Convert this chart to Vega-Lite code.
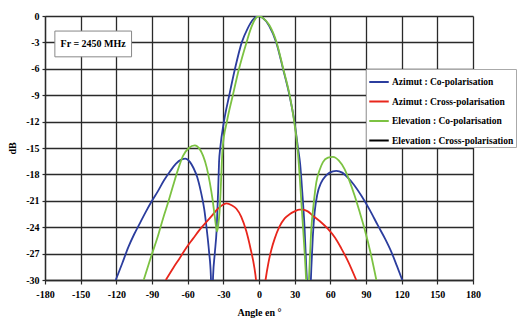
{
  "$schema": "https://vega.github.io/schema/vega-lite/v6.json",
  "autosize": "none",
  "width": 428,
  "height": 264,
  "padding": {"left": 45, "top": 16, "right": 48, "bottom": 40},
  "background": "white",
  "config": {
    "view": {"stroke": null},
    "axis": {
      "labelFont": "Liberation Serif", "labelFontWeight": "bold", "labelFontSize": 10, "labelColor": "#000",
      "titleFont": "Liberation Serif", "titleFontWeight": "bold", "titleFontSize": 10, "titleColor": "#000",
      "gridColor": "#2a2a2a", "gridWidth": 1.3, "gridOpacity": 1, "labelOverlap": false,
      "domainColor": "#2a2a2a", "domainWidth": 1.3, "tickColor": "#2a2a2a", "tickWidth": 1.2, "tickSize": 4
    },
    "legend": {
      "orient": "none", "legendX": 321, "legendY": 53,
      "fillColor": "white", "strokeColor": "#aaa", "padding": 2,
      "symbolType": "stroke", "symbolSize": 380, "symbolStrokeWidth": 2,
      "labelFont": "Liberation Serif", "labelFontWeight": "bold", "labelFontSize": 9.5, "labelColor": "#000",
      "labelLimit": 300, "rowPadding": 3.5, "labelOffset": 2
    }
  },
  "datasets": {
    "box": [{"a": -171.7, "a2": -107.2, "d": -1.71, "d2": -4.64}],
    "note": [{"a": -139.5, "d": -3.2, "label": "Fr = 2450 MHz"}],
    "curves": [
      {"s": "Azimut : Co-polarisation", "a": -120.5, "d": -30},
      {"s": "Azimut : Co-polarisation", "a": -115, "d": -28.1},
      {"s": "Azimut : Co-polarisation", "a": -110, "d": -26.3},
      {"s": "Azimut : Co-polarisation", "a": -105, "d": -24.8},
      {"s": "Azimut : Co-polarisation", "a": -100, "d": -23.5},
      {"s": "Azimut : Co-polarisation", "a": -95, "d": -22.2},
      {"s": "Azimut : Co-polarisation", "a": -90, "d": -21.0},
      {"s": "Azimut : Co-polarisation", "a": -85, "d": -19.9},
      {"s": "Azimut : Co-polarisation", "a": -80, "d": -18.7},
      {"s": "Azimut : Co-polarisation", "a": -75, "d": -17.7},
      {"s": "Azimut : Co-polarisation", "a": -70, "d": -16.8},
      {"s": "Azimut : Co-polarisation", "a": -65, "d": -16.3},
      {"s": "Azimut : Co-polarisation", "a": -62, "d": -16.2},
      {"s": "Azimut : Co-polarisation", "a": -58, "d": -16.6},
      {"s": "Azimut : Co-polarisation", "a": -55, "d": -17.3},
      {"s": "Azimut : Co-polarisation", "a": -52, "d": -18.3},
      {"s": "Azimut : Co-polarisation", "a": -49, "d": -19.9},
      {"s": "Azimut : Co-polarisation", "a": -46, "d": -22.0},
      {"s": "Azimut : Co-polarisation", "a": -44, "d": -24.2},
      {"s": "Azimut : Co-polarisation", "a": -42, "d": -26.8},
      {"s": "Azimut : Co-polarisation", "a": -40.5, "d": -29.5},
      {"s": "Azimut : Co-polarisation", "a": -39.6, "d": -34},
      {"s": "Azimut : Co-polarisation", "a": -38.6, "d": -29.5},
      {"s": "Azimut : Co-polarisation", "a": -37.2, "d": -27.0},
      {"s": "Azimut : Co-polarisation", "a": -35.6, "d": -24.2},
      {"s": "Azimut : Co-polarisation", "a": -34.4, "d": -20.0},
      {"s": "Azimut : Co-polarisation", "a": -33.6, "d": -16.6},
      {"s": "Azimut : Co-polarisation", "a": -32.6, "d": -15},
      {"s": "Azimut : Co-polarisation", "a": -29.5, "d": -12},
      {"s": "Azimut : Co-polarisation", "a": -25, "d": -9},
      {"s": "Azimut : Co-polarisation", "a": -20.2, "d": -6},
      {"s": "Azimut : Co-polarisation", "a": -14.5, "d": -3},
      {"s": "Azimut : Co-polarisation", "a": -9.5, "d": -1.4},
      {"s": "Azimut : Co-polarisation", "a": -5, "d": -0.4},
      {"s": "Azimut : Co-polarisation", "a": -1, "d": 0},
      {"s": "Azimut : Co-polarisation", "a": 3, "d": -0.2},
      {"s": "Azimut : Co-polarisation", "a": 8.5, "d": -1.1},
      {"s": "Azimut : Co-polarisation", "a": 14.5, "d": -3},
      {"s": "Azimut : Co-polarisation", "a": 20.2, "d": -6},
      {"s": "Azimut : Co-polarisation", "a": 25.6, "d": -9},
      {"s": "Azimut : Co-polarisation", "a": 29.8, "d": -12},
      {"s": "Azimut : Co-polarisation", "a": 32.8, "d": -15},
      {"s": "Azimut : Co-polarisation", "a": 34.6, "d": -16.8},
      {"s": "Azimut : Co-polarisation", "a": 36.6, "d": -20.4},
      {"s": "Azimut : Co-polarisation", "a": 38.3, "d": -24},
      {"s": "Azimut : Co-polarisation", "a": 39.8, "d": -28.7},
      {"s": "Azimut : Co-polarisation", "a": 40.5, "d": -30.5},
      {"s": "Azimut : Co-polarisation", "a": 42, "d": -34},
      {"s": "Azimut : Co-polarisation", "a": 43.5, "d": -30.5},
      {"s": "Azimut : Co-polarisation", "a": 44, "d": -28.7},
      {"s": "Azimut : Co-polarisation", "a": 45.3, "d": -25},
      {"s": "Azimut : Co-polarisation", "a": 46.8, "d": -22.3},
      {"s": "Azimut : Co-polarisation", "a": 49, "d": -20.3},
      {"s": "Azimut : Co-polarisation", "a": 52.4, "d": -18.9},
      {"s": "Azimut : Co-polarisation", "a": 56, "d": -18.2},
      {"s": "Azimut : Co-polarisation", "a": 59.4, "d": -17.8},
      {"s": "Azimut : Co-polarisation", "a": 65, "d": -17.6},
      {"s": "Azimut : Co-polarisation", "a": 70, "d": -17.8},
      {"s": "Azimut : Co-polarisation", "a": 73.4, "d": -18.2},
      {"s": "Azimut : Co-polarisation", "a": 80, "d": -19.2},
      {"s": "Azimut : Co-polarisation", "a": 86, "d": -20.4},
      {"s": "Azimut : Co-polarisation", "a": 93, "d": -22.0},
      {"s": "Azimut : Co-polarisation", "a": 100, "d": -23.8},
      {"s": "Azimut : Co-polarisation", "a": 106, "d": -25.3},
      {"s": "Azimut : Co-polarisation", "a": 111.3, "d": -26.8},
      {"s": "Azimut : Co-polarisation", "a": 116, "d": -28.4},
      {"s": "Azimut : Co-polarisation", "a": 120.5, "d": -30},

      {"s": "Azimut : Cross-polarisation", "a": -78.4, "d": -30},
      {"s": "Azimut : Cross-polarisation", "a": -72, "d": -28.6},
      {"s": "Azimut : Cross-polarisation", "a": -66.6, "d": -27.5},
      {"s": "Azimut : Cross-polarisation", "a": -61, "d": -26.3},
      {"s": "Azimut : Cross-polarisation", "a": -55.5, "d": -25.3},
      {"s": "Azimut : Cross-polarisation", "a": -50, "d": -24.3},
      {"s": "Azimut : Cross-polarisation", "a": -44.2, "d": -23.4},
      {"s": "Azimut : Cross-polarisation", "a": -39, "d": -22.6},
      {"s": "Azimut : Cross-polarisation", "a": -34.5, "d": -21.9},
      {"s": "Azimut : Cross-polarisation", "a": -31, "d": -21.5},
      {"s": "Azimut : Cross-polarisation", "a": -27.4, "d": -21.3},
      {"s": "Azimut : Cross-polarisation", "a": -23, "d": -21.5},
      {"s": "Azimut : Cross-polarisation", "a": -19, "d": -21.9},
      {"s": "Azimut : Cross-polarisation", "a": -15, "d": -22.8},
      {"s": "Azimut : Cross-polarisation", "a": -10.6, "d": -24.5},
      {"s": "Azimut : Cross-polarisation", "a": -7, "d": -26.5},
      {"s": "Azimut : Cross-polarisation", "a": -4, "d": -28.5},
      {"s": "Azimut : Cross-polarisation", "a": -2.5, "d": -30},
      {"s": "Azimut : Cross-polarisation", "a": 0.5, "d": -36},
      {"s": "Azimut : Cross-polarisation", "a": 5.5, "d": -30},
      {"s": "Azimut : Cross-polarisation", "a": 8, "d": -28},
      {"s": "Azimut : Cross-polarisation", "a": 10.5, "d": -26.5},
      {"s": "Azimut : Cross-polarisation", "a": 13.2, "d": -25.3},
      {"s": "Azimut : Cross-polarisation", "a": 17, "d": -24},
      {"s": "Azimut : Cross-polarisation", "a": 21.6, "d": -23.0},
      {"s": "Azimut : Cross-polarisation", "a": 26, "d": -22.5},
      {"s": "Azimut : Cross-polarisation", "a": 30, "d": -22.2},
      {"s": "Azimut : Cross-polarisation", "a": 34, "d": -22.0},
      {"s": "Azimut : Cross-polarisation", "a": 37, "d": -22.0},
      {"s": "Azimut : Cross-polarisation", "a": 41, "d": -22.2},
      {"s": "Azimut : Cross-polarisation", "a": 45.4, "d": -22.7},
      {"s": "Azimut : Cross-polarisation", "a": 51, "d": -23.3},
      {"s": "Azimut : Cross-polarisation", "a": 58, "d": -24.2},
      {"s": "Azimut : Cross-polarisation", "a": 64, "d": -25.2},
      {"s": "Azimut : Cross-polarisation", "a": 69.2, "d": -26.4},
      {"s": "Azimut : Cross-polarisation", "a": 75, "d": -27.9},
      {"s": "Azimut : Cross-polarisation", "a": 81.8, "d": -30},

      {"s": "Elevation : Co-polarisation", "a": -97, "d": -30},
      {"s": "Elevation : Co-polarisation", "a": -93, "d": -28.3},
      {"s": "Elevation : Co-polarisation", "a": -90.4, "d": -27.2},
      {"s": "Elevation : Co-polarisation", "a": -85, "d": -25},
      {"s": "Elevation : Co-polarisation", "a": -80.7, "d": -23.0},
      {"s": "Elevation : Co-polarisation", "a": -76, "d": -21},
      {"s": "Elevation : Co-polarisation", "a": -72.3, "d": -19.3},
      {"s": "Elevation : Co-polarisation", "a": -68, "d": -17.4},
      {"s": "Elevation : Co-polarisation", "a": -63.9, "d": -15.9},
      {"s": "Elevation : Co-polarisation", "a": -59, "d": -15.0},
      {"s": "Elevation : Co-polarisation", "a": -54, "d": -14.7},
      {"s": "Elevation : Co-polarisation", "a": -50, "d": -15.1},
      {"s": "Elevation : Co-polarisation", "a": -47, "d": -15.9},
      {"s": "Elevation : Co-polarisation", "a": -44, "d": -17.2},
      {"s": "Elevation : Co-polarisation", "a": -41.4, "d": -18.9},
      {"s": "Elevation : Co-polarisation", "a": -39, "d": -20.9},
      {"s": "Elevation : Co-polarisation", "a": -37.2, "d": -22.8},
      {"s": "Elevation : Co-polarisation", "a": -35.3, "d": -24.5},
      {"s": "Elevation : Co-polarisation", "a": -34.3, "d": -23.8},
      {"s": "Elevation : Co-polarisation", "a": -33.2, "d": -22.3},
      {"s": "Elevation : Co-polarisation", "a": -32.3, "d": -20},
      {"s": "Elevation : Co-polarisation", "a": -31.5, "d": -17.4},
      {"s": "Elevation : Co-polarisation", "a": -30.6, "d": -15},
      {"s": "Elevation : Co-polarisation", "a": -27, "d": -12},
      {"s": "Elevation : Co-polarisation", "a": -22, "d": -9},
      {"s": "Elevation : Co-polarisation", "a": -16.8, "d": -6},
      {"s": "Elevation : Co-polarisation", "a": -10.5, "d": -3},
      {"s": "Elevation : Co-polarisation", "a": -6.5, "d": -1.3},
      {"s": "Elevation : Co-polarisation", "a": -3, "d": -0.3},
      {"s": "Elevation : Co-polarisation", "a": 0, "d": 0},
      {"s": "Elevation : Co-polarisation", "a": 3, "d": -0.2},
      {"s": "Elevation : Co-polarisation", "a": 8.5, "d": -1},
      {"s": "Elevation : Co-polarisation", "a": 14.8, "d": -3},
      {"s": "Elevation : Co-polarisation", "a": 20.4, "d": -6},
      {"s": "Elevation : Co-polarisation", "a": 25.8, "d": -9},
      {"s": "Elevation : Co-polarisation", "a": 29.6, "d": -12},
      {"s": "Elevation : Co-polarisation", "a": 32.4, "d": -15},
      {"s": "Elevation : Co-polarisation", "a": 34.3, "d": -18.4},
      {"s": "Elevation : Co-polarisation", "a": 35.8, "d": -21.5},
      {"s": "Elevation : Co-polarisation", "a": 37.5, "d": -25},
      {"s": "Elevation : Co-polarisation", "a": 39.2, "d": -28.8},
      {"s": "Elevation : Co-polarisation", "a": 40, "d": -31},
      {"s": "Elevation : Co-polarisation", "a": 41, "d": -33},
      {"s": "Elevation : Co-polarisation", "a": 42, "d": -30},
      {"s": "Elevation : Co-polarisation", "a": 44, "d": -24.2},
      {"s": "Elevation : Co-polarisation", "a": 46, "d": -21.3},
      {"s": "Elevation : Co-polarisation", "a": 48.2, "d": -18.9},
      {"s": "Elevation : Co-polarisation", "a": 51, "d": -17.5},
      {"s": "Elevation : Co-polarisation", "a": 53.8, "d": -16.6},
      {"s": "Elevation : Co-polarisation", "a": 58, "d": -16.1},
      {"s": "Elevation : Co-polarisation", "a": 62.2, "d": -16.0},
      {"s": "Elevation : Co-polarisation", "a": 67, "d": -16.4},
      {"s": "Elevation : Co-polarisation", "a": 72, "d": -17.4},
      {"s": "Elevation : Co-polarisation", "a": 76, "d": -18.7},
      {"s": "Elevation : Co-polarisation", "a": 80.4, "d": -20.4},
      {"s": "Elevation : Co-polarisation", "a": 84.5, "d": -22.2},
      {"s": "Elevation : Co-polarisation", "a": 88.8, "d": -24.2},
      {"s": "Elevation : Co-polarisation", "a": 94, "d": -27},
      {"s": "Elevation : Co-polarisation", "a": 98.7, "d": -30}
    ]
  },
  "encoding": {
    "x": {"field": "a", "type": "quantitative", "scale": {"domain": [-180, 180], "nice": false, "zero": false},
          "axis": {"values": [-180, -150, -120, -90, -60, -30, 0, 30, 60, 90, 120, 150, 180], "tickCount": 13, "labelExpr": "toString(datum.value)", "title": "Angle en °", "labelPadding": 5, "titlePadding": 8, "labelFlush": false}},
    "y": {"field": "d", "type": "quantitative", "scale": {"domain": [-30, 0], "nice": false, "zero": false},
          "axis": {"values": [0, -3, -6, -9, -12, -15, -18, -21, -24, -27, -30], "tickCount": 11, "labelExpr": "toString(datum.value)", "title": "dB", "labelPadding": 3, "titlePadding": 8, "tickSize": 3}}
  },
  "layer": [
    {
      "data": {"name": "box"},
      "mark": {"type": "rect", "fill": "white", "stroke": "#888", "strokeWidth": 1},
      "encoding": {
        "x2": {"field": "a2"},
        "y2": {"field": "d2"}
      }
    },
    {
      "data": {"name": "note"},
      "mark": {"type": "text", "font": "Liberation Serif", "fontWeight": "bold", "fontSize": 10, "color": "#000"},
      "encoding": {
        "text": {"field": "label"}
      }
    },
    {
      "data": {"name": "curves"},
      "mark": {"type": "line", "clip": true, "strokeWidth": 1.8, "interpolate": "monotone"},
      "encoding": {
        "color": {"field": "s", "type": "nominal", "title": null,
                  "scale": {"domain": ["Azimut : Co-polarisation", "Azimut : Cross-polarisation", "Elevation : Co-polarisation", "Elevation : Cross-polarisation"],
                            "range": ["#2b3d9e", "#e8261c", "#7cc242", "#000000"]}}
      }
    }
  ]
}
